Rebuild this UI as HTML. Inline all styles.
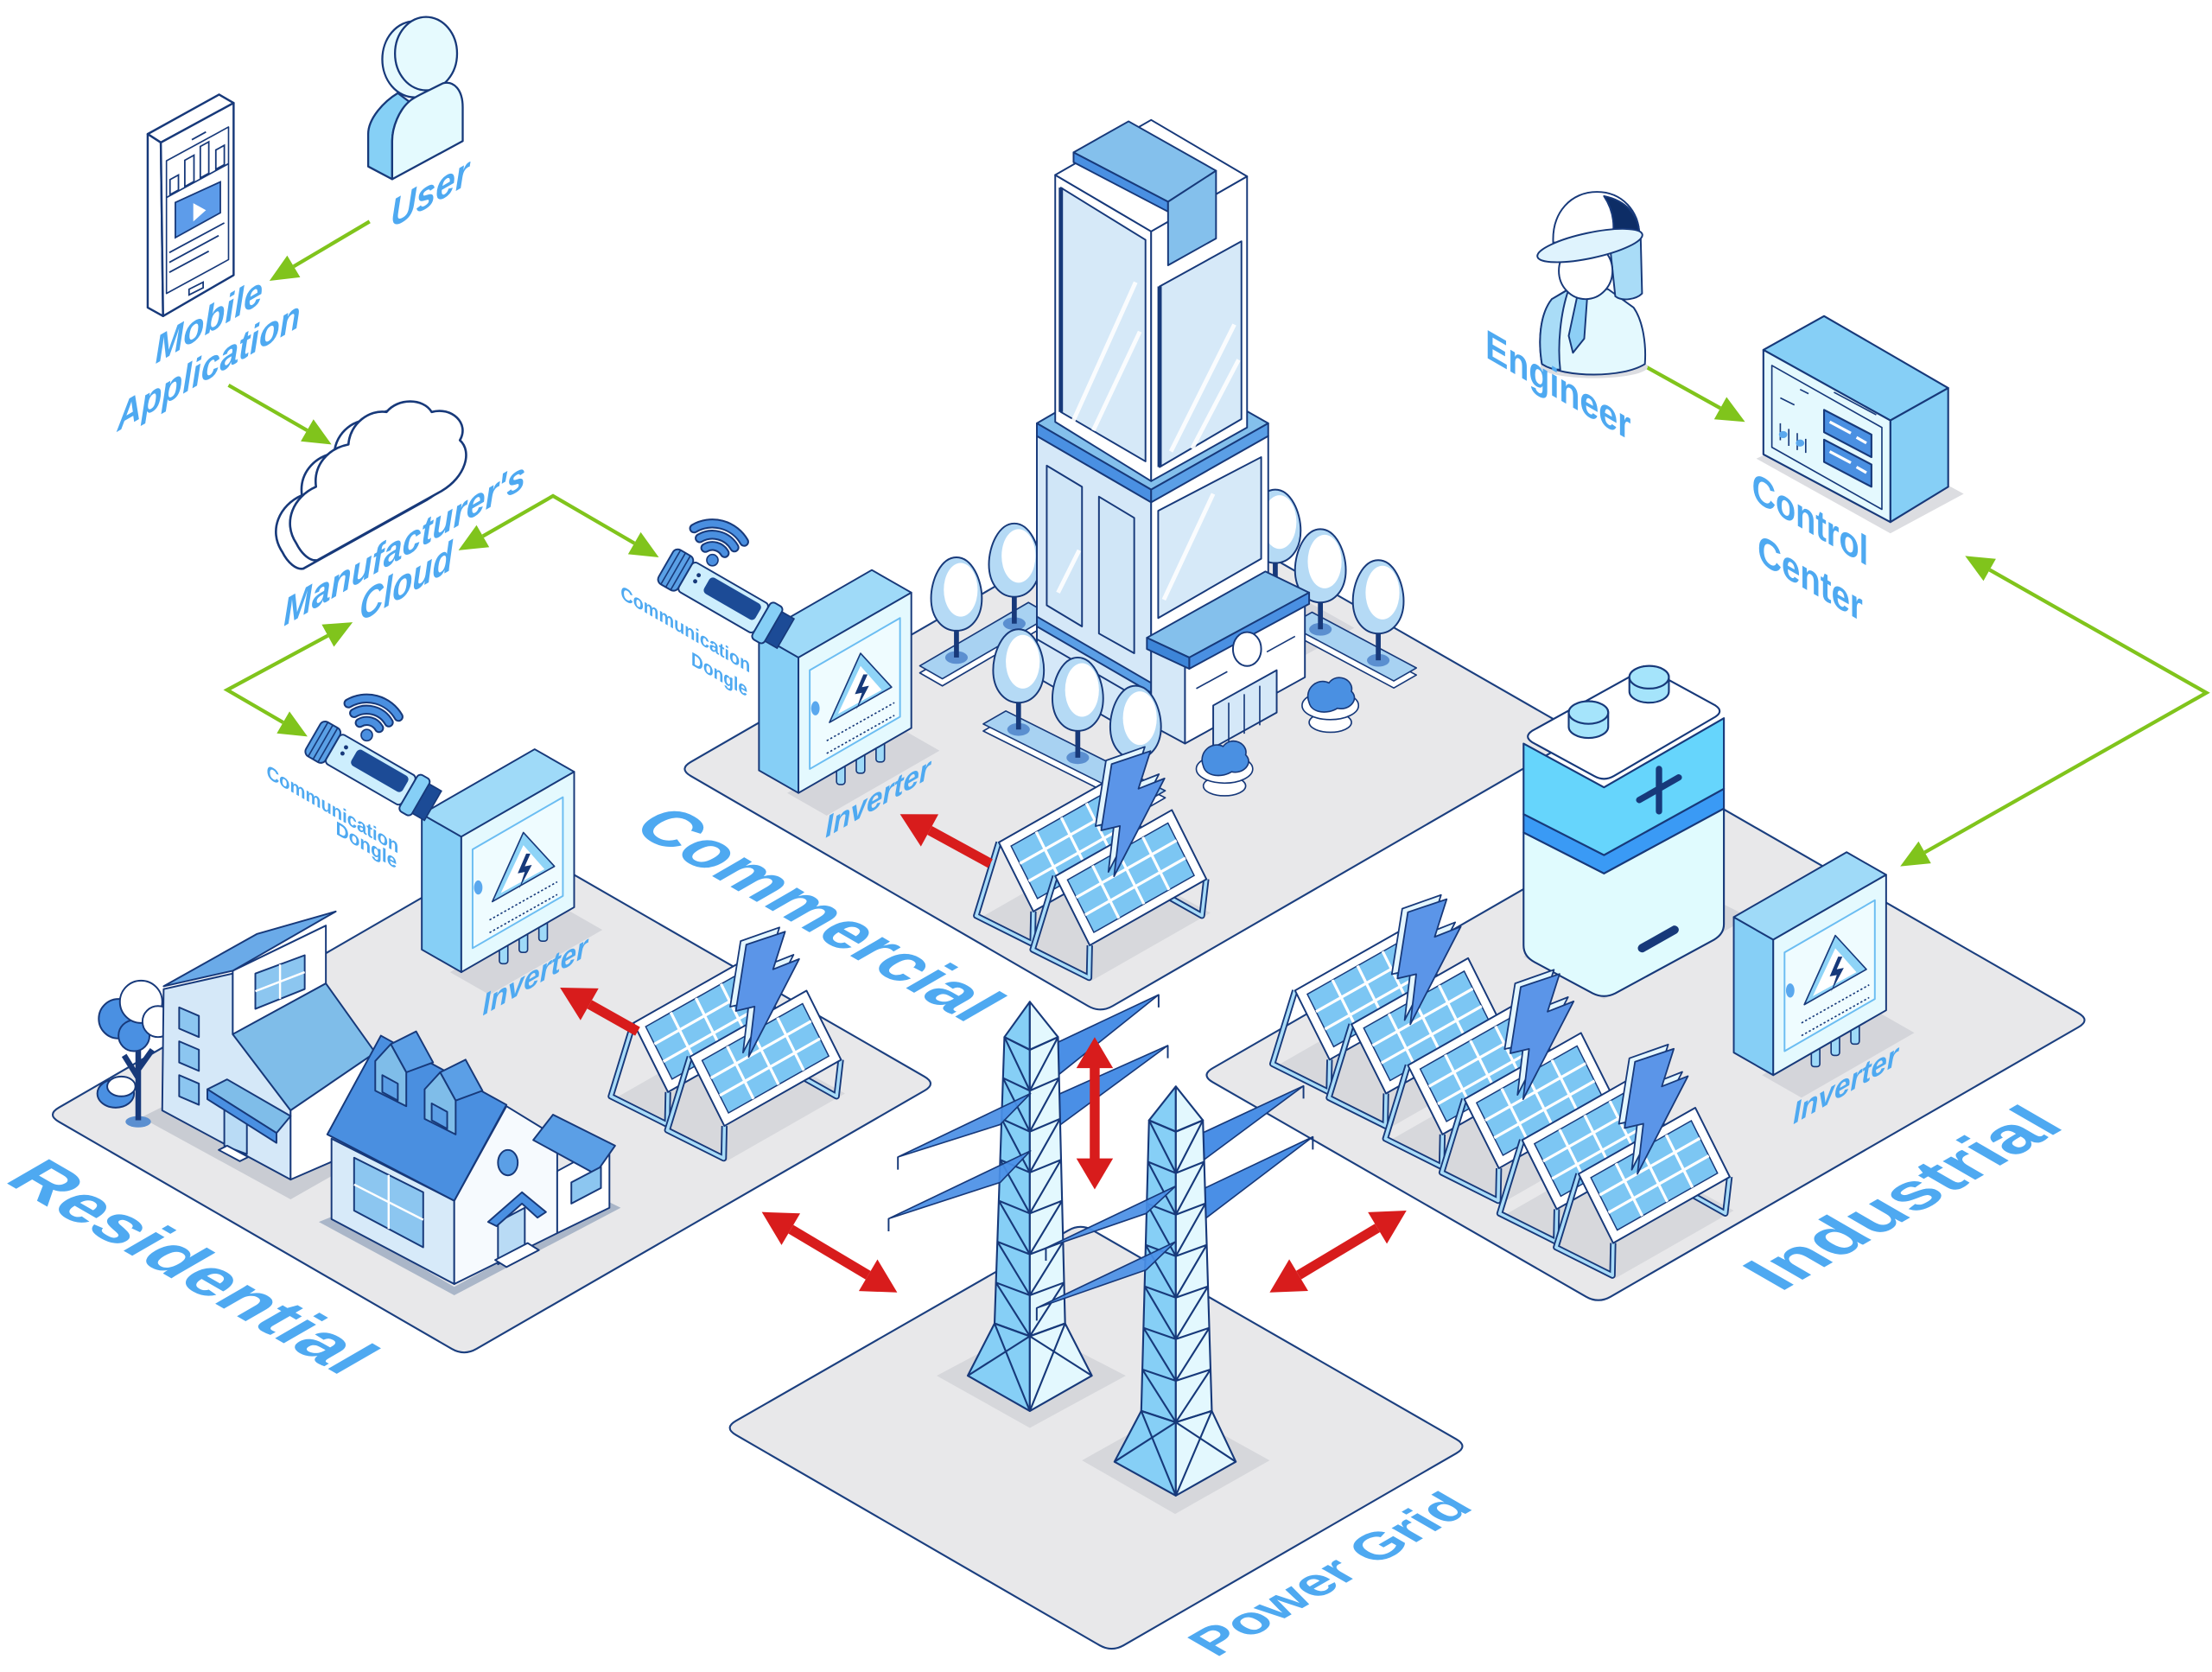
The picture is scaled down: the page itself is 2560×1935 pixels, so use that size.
<!DOCTYPE html>
<html><head><meta charset="utf-8"><style>
html,body{margin:0;padding:0;background:#fff;}
svg{display:block;}
text{font-family:"Liberation Sans",sans-serif;font-weight:bold;fill:#4ea9f1;}
</style></head><body>
<svg xmlns="http://www.w3.org/2000/svg" width="2560" height="1935" viewBox="0 0 1568 1185" preserveAspectRatio="none">
<defs>
<g id="pnl">
<polygon points="0,0 82.7,-46.9 107.2,2.1 24.5,49" fill="#fff" stroke="#17397a" stroke-width="1.2" stroke-linejoin="round"/>
<polygon points="8.7,2.6 79.9,-37.7 98.5,-0.5 27.4,39.8" fill="#7cc6f3" stroke="#17397a" stroke-width="0.9"/>
<path d="M26.5,-7.5 L45.1,29.8 M44.3,-17.6 L62.9,19.7 M62.1,-27.7 L80.7,9.6 M14.9,15 L86,-25.3 M21.2,27.4 L92.3,-12.9" stroke="#fff" stroke-width="2"/>
</g>
<g id="solar">
<polygon points="-14,54 66,98 150,50 70,6" fill="#d7d8dc"/>
<path d="M0,0 L-16,52 L24,72 L24.5,49 M107,2 L104,28 L72,10" fill="none" stroke="#17397a" stroke-width="4.5" stroke-linejoin="round"/>
<path d="M0,0 L-16,52 L24,72 L24.5,49 M107,2 L104,28 L72,10" fill="none" stroke="#a9dcf8" stroke-width="2.2" stroke-linejoin="round"/>
<use href="#pnl"/>
<path d="M40,24 L24,76 L64,96 L64.5,73 M147,26 L144,52 L112,34" fill="none" stroke="#17397a" stroke-width="4.5" stroke-linejoin="round"/>
<path d="M40,24 L24,76 L64,96 L64.5,73 M147,26 L144,52 L112,34" fill="none" stroke="#a9dcf8" stroke-width="2.2" stroke-linejoin="round"/>
<use href="#pnl" x="40" y="24"/>
<polygon points="76,-58 103.5,-67.7 95,-41 113.5,-48.3 77.7,21 81.9,-14.6 68.6,-11.5" fill="#e3f6fe" stroke="#17397a" stroke-width="1.1" stroke-linejoin="round"/>
<polygon points="80,-55.5 107.5,-64.7 99,-38 117.5,-45.3 81.7,24 85.9,-11.6 72.6,-8.5" fill="#5b95e8" stroke="#17397a" stroke-width="1.1" stroke-linejoin="round"/>
</g>
<g id="inv">
<polygon points="20,112 100,66 128,82 48,128" fill="#d4d5da"/>
<rect x="55" y="88" width="6" height="18" rx="2" fill="#9fdaf8" stroke="#17397a" stroke-width="1"/>
<rect x="69" y="80" width="6" height="18" rx="2" fill="#9fdaf8" stroke="#17397a" stroke-width="1"/>
<rect x="83" y="72" width="6" height="18" rx="2" fill="#9fdaf8" stroke="#17397a" stroke-width="1"/>
<polygon points="0,0 28,16 28,112 0,96" fill="#86cff6" stroke="#17397a" stroke-width="1.2" stroke-linejoin="round"/>
<polygon points="0,0 28,16 108,-30 80,-46" fill="#9fdaf8" stroke="#17397a" stroke-width="1.2" stroke-linejoin="round"/>
<polygon points="28,16 108,-30 108,66 28,112" fill="#e4f9fe" stroke="#17397a" stroke-width="1.2" stroke-linejoin="round"/>
<polygon points="36,25 100,-12 100,58 36,95" fill="#effcff" stroke="#6bbdf2" stroke-width="1.2" stroke-linejoin="round"/>
<polygon points="72,13 94,37 50,62" fill="#8fd4f7" stroke="#17397a" stroke-width="1" stroke-linejoin="round"/>
<polygon points="72,22 87,39 56,56" fill="#fff"/>
<path d="M74,28 L68,42 L73,41 L69,53 L78,36 L73,37 L77,28 Z" fill="#17397a"/>
<path d="M48,75 L96,48 M48,84 L96,57" stroke="#17397a" stroke-width="1" stroke-dasharray="1.5,1.5"/>
<ellipse cx="40" cy="52" rx="3" ry="5" fill="#5aa8ee"/>
</g>
<g id="tree">
<ellipse cx="0" cy="0" rx="8" ry="4.5" fill="#5b8fd0"/>
<line x1="0" y1="0" x2="0" y2="-22" stroke="#17397a" stroke-width="3.5"/>
<path d="M0,-71 C11,-71 18,-55 18,-42 C18,-28 10,-19 0,-19 C-10,-19 -18,-28 -18,-42 C-18,-55 -11,-71 0,-71 Z" fill="#b5daf5" stroke="#17397a" stroke-width="1.2"/>
<ellipse cx="3" cy="-48" rx="12" ry="19" fill="#fff"/>
</g>
<g id="dongle">
<rect x="0" y="-14" width="16" height="28" rx="4" fill="#5aa0e6" stroke="#17397a" stroke-width="1.2"/>
<path d="M4,-14 V14 M8,-14 V14 M12,-14 V14" stroke="#17397a" stroke-width="1"/>
<rect x="16" y="-12" width="62" height="24" rx="3" fill="#cdeefd" stroke="#17397a" stroke-width="1.2"/>
<rect x="32" y="-9" width="42" height="13" rx="3" fill="#1c4b96"/>
<circle cx="24" cy="-5" r="1.5" fill="#17397a"/><circle cx="24" cy="0" r="1.5" fill="#17397a"/>
<rect x="78" y="-15" width="10" height="30" rx="3" fill="#86cff6" stroke="#17397a" stroke-width="1.2"/>
<rect x="88" y="-12" width="10" height="24" fill="#1c4b96" stroke="#17397a" stroke-width="1"/>
</g>
<g id="wifi">
<path d="M-5,-8.7 A10,10 0 0 1 8.7,-5 M-9,-15.6 A18,18 0 0 1 15.6,-9 M-13,-22.5 A26,26 0 0 1 22.5,-13" fill="none" stroke="#17397a" stroke-width="7" stroke-linecap="round"/>
<path d="M-5,-8.7 A10,10 0 0 1 8.7,-5 M-9,-15.6 A18,18 0 0 1 15.6,-9 M-13,-22.5 A26,26 0 0 1 22.5,-13" fill="none" stroke="#4a8fe0" stroke-width="4.5" stroke-linecap="round"/>
<circle cx="0" cy="0" r="4" fill="#4a8fe0" stroke="#17397a" stroke-width="1"/>
</g>
</defs>

<!-- PLATFORMS -->
<g fill="#e8e8ea" stroke="#1b3f7f" stroke-width="1.3">
<path d="M41.7,785 L358.3,602 Q367,597 375.7,602 L655.3,763 Q664,768 655.3,773 L337.7,956 Q329,961 320.3,956 L41.7,795 Q33,790 41.7,785 Z"/>
<path d="M489.7,540 L812.3,354 Q821,349 829.7,354 L1112.3,516 Q1121,521 1112.3,526 L788.7,713 Q780,718 771.3,713 L489.7,550 Q481,545 489.7,540 Z"/>
<path d="M859.7,757 L1191.3,566 Q1200,561 1208.7,566 L1473.3,718 Q1482,723 1473.3,728 L1141.7,919 Q1133,924 1124.3,919 L859.7,767 Q851,762 859.7,757 Z"/>
<path d="M521.7,1007 L757.3,872 Q766,867 774.7,872 L1032.3,1020 Q1041,1025 1032.3,1030 L796.7,1166 Q788,1171 779.3,1166 L521.7,1017 Q513,1012 521.7,1007 Z"/>
</g>

<!-- COMMERCIAL -->
<polygon points="735,478 816,525 960,445 880,400" fill="#d6d7dc"/>
<use href="#tree" x="904" y="418"/>
<g stroke="#17397a" stroke-width="1" stroke-linejoin="round">
<polygon points="652,476.9 729,432 745,441.2 668,486.1" fill="#fff"/>
<polygon points="652,471.9 729,427 745,436.2 668,481.1" fill="#a8d2f2"/>
<polygon points="914,448.1 930,438.9 1004,478.4 988,487.6" fill="#fff"/>
<polygon points="914,443.1 930,433.9 1004,473.4 988,482.6" fill="#a8d2f2"/>
</g>
<use href="#tree" x="678" y="466"/>
<use href="#tree" x="719" y="442"/>
<use href="#tree" x="936" y="446"/>
<use href="#tree" x="977" y="468"/>
<g stroke="#17397a" stroke-width="1.2" stroke-linejoin="round">
<polygon points="735,444 816,491 816,527 735,480" fill="#d5e8f8"/>
<polygon points="735,309 816,356 816,500 735,453" fill="#d5e8f8"/>
<polygon points="742,330 767,345 767,444 742,429" fill="#d0e6f7"/>
<polygon points="779,352 804,367 804,463 779,449" fill="#d0e6f7"/>
<polygon points="816,356 899,309 899,415 816,462" fill="#fff"/>
<polygon points="821,362 894,324 894,396 821,438" fill="#d6e9f8"/>
<polygon points="735,437 816,484 816,491 735,444" fill="#5b9fe6"/>
<polygon points="735,300 816,253 899,300 816,347" fill="#84c0ec"/>
<polygon points="735,300 816,347 816,356 735,309" fill="#4a90e2"/>
<polygon points="816,347 899,300 899,309 816,356" fill="#5b9fe6"/>
<polygon points="748,124 816,164 816,341 748,299" fill="#fff"/>
<polygon points="752,133 812,170 812,327 752,292" fill="#d6e9f8"/>
<polygon points="816,164 884,125 884,303 816,341" fill="#fff"/>
<polygon points="822,203 880,171 880,297 822,331" fill="#d6e9f8"/>
<polygon points="748,124 816,85 884,125 816,164" fill="#fff"/>
<polygon points="761,108 800,86 862,121 828,143" fill="#84c0ec"/>
<polygon points="761,108 828,143 828,150 761,115" fill="#4a90e2"/>
<polygon points="828,143 862,121 862,169 828,188" fill="#84c0ec"/>
</g>
<path d="M752,133 L752,292 M822,203 L822,331" stroke="#17397a" stroke-width="3"/>
<path d="M760,300 L805,200 M775,305 L808,235 M830,320 L875,230 M845,318 L878,255 M750,420 L765,390 M825,425 L860,350" stroke="#fff" stroke-width="3" opacity="0.9"/>
<g stroke="#17397a" stroke-width="1.2" stroke-linejoin="round">
<polygon points="816,455 840,468 840,527 816,514" fill="#d5e8f8"/>
<polygon points="840,468 925,421 925,480 840,527" fill="#fff"/>
<polygon points="813,452 897,405 928,420 843,466" fill="#84c0ec"/>
<polygon points="843,466 928,420 928,428 843,474" fill="#4a90e2"/>
<polygon points="813,452 843,466 843,474 813,460" fill="#3d85d8"/>
<ellipse cx="884" cy="460" rx="10" ry="12" fill="#fff"/>
<polygon points="860,500 905,475 905,505 860,530" fill="#d5e8f8"/>
</g>
<path d="M848,488 L870,476 M898,462 L918,451 M871,498 L871,526 M882,492 L882,520 M893,486 L893,514" stroke="#17397a" stroke-width="1"/>
<g stroke="#17397a" stroke-width="1" stroke-linejoin="round">
<polygon points="697,518.1 713,508.9 826,565.4 810,574.6" fill="#fff"/>
<polygon points="697,513.1 713,503.9 826,560.4 810,569.6" fill="#a8d2f2"/>
</g>
<use href="#tree" x="722" y="517"/>
<use href="#tree" x="764" y="537"/>
<use href="#tree" x="805" y="557"/>
<g stroke="#17397a" stroke-width="1">
<ellipse cx="943" cy="512" rx="15" ry="7" fill="#fff"/>
<ellipse cx="943" cy="500" rx="20" ry="10" fill="#fff"/>
<path d="M928,498 C924,488 934,480 942,484 C948,476 960,482 958,490 C964,496 956,504 948,502 C942,506 930,506 928,498Z" fill="#4a90e2"/>
<ellipse cx="868" cy="557" rx="15" ry="7" fill="#fff"/>
<ellipse cx="868" cy="545" rx="20" ry="10" fill="#fff"/>
<path d="M853,543 C849,533 859,525 867,529 C873,521 885,527 883,535 C889,541 881,549 873,547 C867,551 855,551 853,543Z" fill="#4a90e2"/>
</g>
<use href="#inv" x="538" y="450"/>
<use href="#dongle" transform="translate(472,400) rotate(30)"/>
<use href="#wifi" x="505" y="397"/>
<use href="#solar" x="708" y="597"/>

<!-- RESIDENTIAL -->
<polygon points="100,792 206,850 250,825 140,772" fill="#c9ccd3"/>
<polygon points="226,866 322,918 440,856 432,852 322,912 236,862" fill="#aab6c8"/>
<ellipse cx="98" cy="795" rx="9" ry="4" fill="#5b8fd0"/>
<path d="M98,742 L98,794 M98,764 L88,748 M98,758 L108,744" stroke="#17397a" stroke-width="4" fill="none"/>
<g stroke="#17397a" stroke-width="1.2">
<circle cx="84" cy="722" r="14" fill="#4a90e2"/>
<circle cx="95" cy="734" r="11" fill="#4a90e2"/>
<circle cx="100" cy="710" r="15" fill="#fff"/>
<circle cx="112" cy="724" r="11" fill="#fff"/>
<ellipse cx="82" cy="775" rx="13" ry="10" fill="#4a90e2"/>
<ellipse cx="86" cy="770" rx="10" ry="7" fill="#fff"/>
</g>
<!-- house 1 -->
<g stroke="#17397a" stroke-width="1.2" stroke-linejoin="round">
<polygon points="116,701 165,690 165,733 206,787 206,836 115,787" fill="#d5e8f8"/>
<polygon points="165,688 231,656 231,697 165,733" fill="#fff"/>
<polygon points="181,690 216,677 216,701 181,715" fill="#8cc6f0"/>
<polygon points="116,699 182,662 238,646 165,688" fill="#6aaae8"/>
<polygon points="165,733 231,697 266,746 206,787" fill="#7fbde9"/>
<polygon points="206,787 266,746 266,810 206,836" fill="#fff"/>
<polygon points="127,714 141,720 141,735 127,729" fill="#8cc6f0"/>
<polygon points="127,738 141,744 141,759 127,753" fill="#8cc6f0"/>
<polygon points="127,762 141,768 141,783 127,777" fill="#8cc6f0"/>
<polygon points="159,781 175,789 175,818 159,812" fill="#b9dbf5"/>
<polygon points="147,772 161,765 206,791 196,803" fill="#7fbde9"/>
<polygon points="147,772 196,803 196,810 147,779" fill="#4a90e2"/>
<polygon points="155,815 170,823 176,820 161,812" fill="#fff"/>
</g>
<path d="M198.5,683.5 L198.5,708 M181,702.5 L216,689" stroke="#fff" stroke-width="1.5"/>
<!-- house 2 -->
<g stroke="#17397a" stroke-width="1.2" stroke-linejoin="round">
<polygon points="235,807 322,851 322,910 235,864" fill="#d7eaf9"/>
<polygon points="251,820.5 300,845 300,884 251,858" fill="#8cc6f0"/>
<polygon points="322,910 322,851 359,784 395,806 395,874" fill="#f6fafe"/>
<polygon points="395,830 432,810 432,856 395,874" fill="#fff"/>
<polygon points="378,808 392,790 436,812 422,832" fill="#5b9fe6"/>
<polygon points="405,838 426,827 426,842 405,853" fill="#8cc6f0"/>
<polygon points="232,804 270,734 359,783 322,851" fill="#4a8fe0"/>
<polygon points="277,740 295,731 307,753 288,760" fill="#5b9fe6"/>
<polygon points="266,773 266,752 277,740 288,760 288,784" fill="#7fbde9"/>
<polygon points="271,762 282,768 282,780 271,774" fill="#5b9fe6"/>
<polygon points="312,760 330,751 342,773 323,780" fill="#5b9fe6"/>
<polygon points="301,793 301,772 312,760 323,780 323,804" fill="#7fbde9"/>
<polygon points="306,782 317,788 317,800 306,794" fill="#5b9fe6"/>
<ellipse cx="360" cy="824" rx="7" ry="9" fill="#5b9fe6"/>
<polygon points="353,866 372,856 372,886 353,896" fill="#b9dbf5"/>
<polygon points="346,866 370,845 387,859 381,863 370,853 352,869" fill="#4a90e2"/>
<polygon points="351,893 374,881 382,886 359,898" fill="#fff"/>
</g>
<path d="M275.5,832.7 L275.5,871 M251,839.5 L300,864.5" stroke="#fff" stroke-width="1.5"/>
<use href="#inv" x="299" y="577"/>
<use href="#dongle" transform="translate(222,522) rotate(30)"/>
<use href="#wifi" x="260" y="521"/>
<use href="#solar" x="449" y="725"/>

<!-- INDUSTRIAL -->
<polygon points="1080,678 1137,708 1240,650 1190,625" fill="#d4d5da"/>
<g stroke="#17397a" stroke-width="1.3" stroke-linejoin="round">
<path d="M1080,590 L1137,619 L1222,573 L1222,655 Q1222,662 1215,666 L1145,704 Q1137,708 1129,704 L1088,682 Q1080,678 1080,670 Z" fill="#e0fbfe"/>
<path d="M1080,577 L1137,606 L1222,559 L1222,573 L1137,619 L1080,590 Z" fill="#3a9af5"/>
<path d="M1080,527 L1137,558 L1222,509 L1222,559 L1137,606 L1080,577 Z" fill="#66d5fc"/>
<path d="M1086,518 L1160,477 Q1167,473 1174,477 L1216,500 Q1222,504 1216,508 L1144,550 Q1137,554 1130,550 L1086,526 Q1080,522 1086,518 Z" fill="#fff"/>
<path d="M1112,515 L1112,505 A14,8 0 0 1 1140,505 L1140,515 A14,8 0 0 1 1112,515 Z" fill="#a5e4fb"/>
<ellipse cx="1126" cy="505" rx="14" ry="8" fill="#a5e4fb"/>
<path d="M1155,490 L1155,480 A14,8 0 0 1 1183,480 L1183,490 A14,8 0 0 1 1155,490 Z" fill="#a5e4fb"/>
<ellipse cx="1169" cy="480" rx="14" ry="8" fill="#a5e4fb"/>
</g>
<path d="M1162,567 L1190,551 M1176,545 L1176,575" stroke="#17397a" stroke-width="4.5" stroke-linecap="round"/>
<path d="M1164,672 L1187,659" stroke="#17397a" stroke-width="6" stroke-linecap="round"/>
<use href="#inv" x="1229" y="650"/>
<use href="#solar" x="918" y="702"/>
<use href="#solar" x="998" y="755"/>
<use href="#solar" x="1079" y="808"/>

<!-- POWER GRID -->
<polygon points="664,975 730,1012 798,975 730,940" fill="#d6d7db"/>
<polygon points="767,1035 833,1073 900,1035 833,998" fill="#d6d7db"/>
<!-- right wedges tower1 (behind) -->
<g stroke="#17397a" stroke-width="1" stroke-linejoin="round" fill="#4a8fe6">
<polygon points="745,741 821.3,705 745,766"/>
<polygon points="745,778 827.8,741 745,802"/>
</g>
<path d="M821.3,705 L821.3,714 M827.8,741 L827.8,750" stroke="#17397a" stroke-width="1.2"/>
<g stroke="#17397a" stroke-width="1.3" stroke-linejoin="round">
<polygon points="712,735 730,744 730,947 705,938" fill="#86cff6"/>
<polygon points="730,744 750,735 755,938 730,947" fill="#e3f8fe"/>
<polygon points="730,710 712,735 730,744" fill="#86cff6"/>
<polygon points="730,710 730,744 750,735" fill="#e3f8fe"/>
<polygon points="705,938 730,947 730,1000 686,975" fill="#86cff6"/>
<polygon points="730,947 755,938 774,975 730,1000" fill="#e3f8fe"/>
<path fill="none" d="M712,735 L730,744 L750,735 M711,764 L730,773 L750.7,764 M710,793 L730,802 L751.4,793 M709,822 L730,831 L752.1,822 M708,851 L730,860 L752.9,851 M707,880 L730,889 L753.6,880 M706,909 L730,918 L754.3,909 M705,938 L730,947 L755,938 M712,735 L730,773 M711,764 L730,802 M710,793 L730,831 M709,822 L730,860 M708,851 L730,889 M707,880 L730,918 M706,909 L730,947 M750,735 L730,773 M750.7,764 L730,802 M751.4,793 L730,831 M752.1,822 L730,860 M752.9,851 L730,889 M753.6,880 L730,918 M754.3,909 L730,947 M705,938 L730,1000 M730,947 L686,975 M755,938 L730,1000 M730,947 L774,975"/>
</g>
<g stroke="#17397a" stroke-width="1" stroke-linejoin="round" fill="#4a8fe6">
<polygon points="636.5,820 730.5,775 709,797" fill-opacity="0.92"/>
<polygon points="629.9,863.7 730.5,815.6 709,838" fill-opacity="0.92"/>
</g>
<path d="M636.5,820 L636.5,829 M629.9,863.7 L629.9,872.7" stroke="#17397a" stroke-width="1.2"/>
<!-- right wedges tower2 -->
<g stroke="#17397a" stroke-width="1" stroke-linejoin="round" fill="#4a8fe6">
<polygon points="848,805 924,769.6 848,826"/>
<polygon points="850,844 930.6,805.7 850,867"/>
</g>
<path d="M924,769.6 L924,778.6 M930.6,805.7 L930.6,814.7" stroke="#17397a" stroke-width="1.2"/>
<g stroke="#17397a" stroke-width="1.3" stroke-linejoin="round">
<polygon points="814.5,794 833.5,802 833.5,1008 809,1000" fill="#86cff6"/>
<polygon points="833.5,802 852.7,794 859,1000 833.5,1008" fill="#e3f8fe"/>
<polygon points="833.5,770 814.5,794 833.5,802" fill="#86cff6"/>
<polygon points="833.5,770 833.5,802 852.7,794" fill="#e3f8fe"/>
<polygon points="809,1000 833.5,1008 833.5,1060 790,1036" fill="#86cff6"/>
<polygon points="833.5,1008 859,1000 876,1036 833.5,1060" fill="#e3f8fe"/>
<path fill="none" d="M814.5,794 L833.5,802 L852.7,794 M813.7,823.4 L833.5,831.4 L853.6,823.4 M812.9,852.9 L833.5,860.9 L854.5,852.9 M812.1,882.3 L833.5,890.3 L855.4,882.3 M811.4,911.7 L833.5,919.7 L856.3,911.7 M810.6,941.1 L833.5,949.1 L857.2,941.1 M809.8,970.6 L833.5,978.6 L858.1,970.6 M809,1000 L833.5,1008 L859,1000 M814.5,794 L833.5,831.4 M813.7,823.4 L833.5,860.9 M812.9,852.9 L833.5,890.3 M812.1,882.3 L833.5,919.7 M811.4,911.7 L833.5,949.1 M810.6,941.1 L833.5,978.6 M809.8,970.6 L833.5,1008 M852.7,794 L833.5,831.4 M853.6,823.4 L833.5,860.9 M854.5,852.9 L833.5,890.3 M855.4,882.3 L833.5,919.7 M856.3,911.7 L833.5,949.1 M857.2,941.1 L833.5,978.6 M858.1,970.6 L833.5,1008 M809,1000 L833.5,1060 M833.5,1008 L790,1036 M859,1000 L833.5,1060 M833.5,1008 L876,1036"/>
</g>
<g stroke="#17397a" stroke-width="1" stroke-linejoin="round" fill="#4a8fe6">
<polygon points="741.4,884.5 833.3,840.7 812.5,860" fill-opacity="0.92"/>
<polygon points="734.9,927 833.3,880 812.5,900" fill-opacity="0.92"/>
</g>
<path d="M741.4,884.5 L741.4,893.5 M734.9,927 L734.9,936" stroke="#17397a" stroke-width="1.2"/>

<!-- RED ARROWS -->
<g fill="#d81c1c" stroke="none">
<path d="M452,731 L417.9,711.8" stroke="#d81c1c" stroke-width="7"/>
<polygon points="397,700 424.3,700.5 411.5,723.1"/>
<path d="M702,612 L659,588.5" stroke="#d81c1c" stroke-width="7"/>
<polygon points="638,577 665.2,577.1 652.8,599.9"/>
<path d="M776,755 L776,823" stroke="#d81c1c" stroke-width="7"/>
<polygon points="776,735 763,757 789,757"/>
<polygon points="776,843 763,821 789,821"/>
<path d="M560.6,871.2 L615.4,903.8" stroke="#d81c1c" stroke-width="7"/>
<polygon points="636,916 608.8,915 622,892.6"/>
<polygon points="540,859 554,882.4 567.2,860"/>
<path d="M920.6,903.7 L976.4,870.3" stroke="#d81c1c" stroke-width="7"/>
<polygon points="997,858 983.1,881.5 969.7,859.1"/>
<polygon points="900,916 927.3,914.9 913.9,892.5"/>
</g>

<!-- GREEN ARROWS -->
<g fill="none" stroke="#80c41c" stroke-width="2.6" stroke-linejoin="miter">
<path d="M262,157 L208.2,188.8"/>
<path d="M162,273 L217.7,305"/>
<path d="M342.3,380 L392,351.5 L449.7,385"/>
<path d="M232.4,450.5 L161,489 L200.7,512"/>
<path d="M1165,259 L1219.5,289.3"/>
<path d="M1410.4,403.9 L1564,491 L1364.4,604.1"/>
</g>
<g fill="#80c41c">
<polygon points="191,199 203.6,181.1 212.8,196.5"/>
<polygon points="235,315 213.2,312.8 222.2,297.2"/>
<polygon points="325,390 337.8,372.2 346.8,387.8"/>
<polygon points="467,395 445.2,392.8 454.2,377.2"/>
<polygon points="250,441 236.7,458.4 228.1,442.6"/>
<polygon points="218,522 196.2,519.8 205.2,504.2"/>
<polygon points="1237,299 1215.1,297.2 1223.9,281.4"/>
<polygon points="1393,394 1414.8,396.1 1406,411.7"/>
<polygon points="1347,614 1360,596.3 1368.8,611.9"/>
</g>

<!-- USER -->
<g stroke="#17397a" stroke-width="1.4" stroke-linejoin="round">
<ellipse cx="294" cy="42" rx="23" ry="27" fill="#e6fafe"/>
<ellipse cx="302" cy="38" rx="22" ry="26" fill="#e6fafe"/>
<path d="M261,118 L278,127 L278,100 C278,90 283,78 290,72 L282,66 C272,72 261,84 261,95 Z" fill="#86d0f6"/>
<path d="M278,127 L328,100 L328,76 C328,64 322,57 314,59 L300,66 C296,68 292,70 290,72 C283,78 278,90 278,100 Z" fill="#e4fafe"/>
</g>
<!-- PHONE -->
<g stroke="#17397a" stroke-width="1.5" stroke-linejoin="round" fill="#fff">
<polygon points="104.7,95 155.3,67 165.6,73 114,101"/>
<polygon points="104.7,95 114,101 115.6,224 104.7,218"/>
<polygon points="114,101 165.6,73 165.6,195 115.6,224"/>
<polygon points="118,114 162,90 162,184 118,208" stroke-width="1"/>
</g>
<g stroke="#17397a" stroke-width="1.1" fill="#fff">
<path d="M136,99 L146,93.5" fill="none"/>
<polygon points="120.5,138 126.5,134.7 126.5,124 120.5,127.3"/>
<polygon points="131,132.2 137.5,128.6 137.5,110 131,113.6"/>
<polygon points="142,126.1 148,122.8 148,100.5 142,103.8"/>
<polygon points="153,120 159,116.7 159,103 153,106.3"/>
<path d="M118,140 L162,116" fill="none"/>
<polygon points="124.3,143.5 156.2,128.9 156.2,150.8 124.3,168.4" fill="#5d9cea"/>
<polygon points="137,144 137,157 146,149" fill="#fff" stroke="none"/>
<path d="M120,179 L159,158 M120,186 L155,167 M120,193 L148,178" fill="none"/>
<polygon points="134,205 144,200 144,204 134,209" fill="#fff"/>
</g>
<!-- CLOUD -->
<g stroke="#17397a" stroke-width="1.6" stroke-linejoin="round" fill="#fff">
<path transform="translate(-10,6)" d="M225,397 L313,348 C330,338 335,320 326,312 C333,300 320,288 306,292 C300,282 282,282 274,292 C262,290 248,300 247,315 C232,318 222,330 224,345 C208,352 200,370 210,385 C214,393 220,398 225,397 Z"/>
<path d="M225,397 L313,348 C330,338 335,320 326,312 C333,300 320,288 306,292 C300,282 282,282 274,292 C262,290 248,300 247,315 C232,318 222,330 224,345 C208,352 200,370 210,385 C214,393 220,398 225,397 Z"/>
</g>
<!-- ENGINEER -->
<ellipse cx="1130" cy="260" rx="38" ry="8" fill="#dcdde1"/>
<g stroke="#17397a" stroke-width="1.2" stroke-linejoin="round">
<path d="M1093,258 C1090,240 1092,222 1100,212 L1115,203 L1140,205 L1158,218 C1165,228 1167,245 1166,258 C1150,268 1110,268 1093,258 Z" fill="#e4f9fe"/>
<path d="M1093,258 C1090,240 1092,222 1100,212 L1112,205 C1106,222 1104,245 1106,262 C1100,262 1096,260 1093,258 Z" fill="#a9dcf7"/>
<polygon points="1118,210 1125,212 1123,240 1115,250 1112,238" fill="#8dcff5"/>
<path d="M1141,172 L1163,168 L1164,208 C1160,212 1150,214 1145,210 Z" fill="#a9dcf7"/>
<ellipse cx="1124" cy="192" rx="19" ry="20" fill="#fff"/>
<path d="M1101,172 C1100,150 1114,136 1132,136 C1150,136 1162,150 1162,166 Z" fill="#fff"/>
<path d="M1137,139 C1152,142 1162,152 1162,166 L1143,169 C1145,158 1143,148 1137,139 Z" fill="#0d2d66"/>
<ellipse cx="1127" cy="174" rx="38" ry="9" fill="#dff3fd" transform="rotate(-12 1127 174)"/>
</g>
<!-- CONTROL CENTER -->
<polygon points="1245,325 1340,378 1392,350 1300,300" fill="#dcdde1"/>
<g stroke="#17397a" stroke-width="1.3" stroke-linejoin="round">
<polygon points="1250,248 1293,224 1381,275 1340,298" fill="#86cff6"/>
<polygon points="1340,298 1381,275 1381,345 1340,370" fill="#86cff6"/>
<polygon points="1250,248 1340,298 1340,370 1250,322" fill="#e4f9fe"/>
<polygon points="1256,259 1334,303 1334,361 1256,317" fill="none" stroke-width="1"/>
<polygon points="1293,290.5 1326.6,308 1326.6,324 1293,306.3" fill="#4a90e2"/>
<polygon points="1293,311.6 1326.6,329.2 1326.6,345 1293,327.4" fill="#4a90e2"/>
</g>
<path d="M1297,299 L1312,307 M1316,310 L1323,314 M1297,320 L1312,328 M1316,331 L1323,335" stroke="#fff" stroke-width="2"/>
<path d="M1262,282 L1272,287 M1276,276 L1282,279 M1262,300 L1262,312 M1268,304 L1268,316 M1274,307 L1274,319 M1280,311 L1280,321 M1300,278 L1330,294" stroke="#17397a" stroke-width="1"/>
<ellipse cx="1264" cy="308" rx="3" ry="2.5" fill="#5aa8ee"/>
<ellipse cx="1276" cy="314" rx="3" ry="2.5" fill="#5aa8ee"/>

<!-- LABELS -->
<text transform="matrix(0.866,0.5,-0.866,0.5,2,837)" font-size="50" textLength="277" lengthAdjust="spacingAndGlyphs">Residential</text>
<text transform="matrix(0.866,0.5,-0.866,0.5,446,587)" font-size="50" textLength="277" lengthAdjust="spacingAndGlyphs">Commercial</text>
<text transform="matrix(0.866,-0.5,0.866,0.5,1262,916)" font-size="50" textLength="234" lengthAdjust="spacingAndGlyphs">Industrial</text>
<text transform="matrix(0.866,-0.5,0.866,0.5,862,1175)" font-size="38" textLength="212" lengthAdjust="spacingAndGlyphs">Power Grid</text>
<g font-style="italic">
<text transform="matrix(0.866,-0.5,0,1,277,162)" font-size="28" textLength="64" lengthAdjust="spacingAndGlyphs">User</text>
<text transform="matrix(0.866,-0.5,0,1,110,258)" font-size="27" textLength="88" lengthAdjust="spacingAndGlyphs">Mobile</text>
<text transform="matrix(0.866,-0.5,0,1,83,306)" font-size="27" textLength="150" lengthAdjust="spacingAndGlyphs">Application</text>
<text transform="matrix(0.866,-0.5,0,1,201,444)" font-size="27" textLength="198" lengthAdjust="spacingAndGlyphs">Manufacturer's</text>
<text transform="matrix(0.866,-0.5,0,1,255,441)" font-size="29" textLength="76" lengthAdjust="spacingAndGlyphs">Cloud</text>
<text transform="matrix(0.866,-0.5,0,1,342,720)" font-size="21" textLength="86" lengthAdjust="spacingAndGlyphs">Inverter</text>
<text transform="matrix(0.866,-0.5,0,1,585,594)" font-size="21" textLength="86" lengthAdjust="spacingAndGlyphs">Inverter</text>
<text transform="matrix(0.866,-0.5,0,1,1271,797)" font-size="21" textLength="86" lengthAdjust="spacingAndGlyphs">Inverter</text>
</g>
<text transform="matrix(0.866,0.5,0,1,1053,253)" font-size="29" textLength="119" lengthAdjust="spacingAndGlyphs">Engineer</text>
<text transform="matrix(0.866,0.5,0,1,1242,354)" font-size="29" textLength="95" lengthAdjust="spacingAndGlyphs">Control</text>
<text transform="matrix(0.866,0.5,0,1,1246,398)" font-size="29" textLength="86" lengthAdjust="spacingAndGlyphs">Center</text>
<text transform="matrix(0.866,0.5,0,1,189,551)" font-size="13.5" textLength="108" lengthAdjust="spacingAndGlyphs">Communication</text>
<text transform="matrix(0.866,0.5,0,1,238,591)" font-size="13.5" textLength="50" lengthAdjust="spacingAndGlyphs">Dongle</text>
<text transform="matrix(0.866,0.5,0,1,440,424)" font-size="13.5" textLength="106" lengthAdjust="spacingAndGlyphs">Communication</text>
<text transform="matrix(0.866,0.5,0,1,490,471)" font-size="13.5" textLength="46" lengthAdjust="spacingAndGlyphs">Dongle</text>
</svg>
</body></html>
